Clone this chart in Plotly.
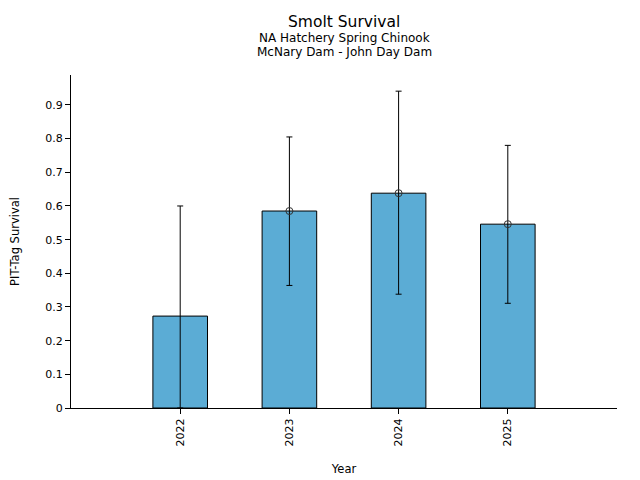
import plotly.graph_objects as go

years = ["2022", "2023", "2024", "2025"]
survival = [0.273, 0.585, 0.638, 0.546]
lower_ci = [0.0, 0.364, 0.338, 0.311]
upper_ci = [0.600, 0.805, 0.941, 0.780]
point_est = [None, 0.585, 0.638, 0.546]
y_ticks = [0, 0.1, 0.2, 0.3, 0.4, 0.5, 0.6, 0.7, 0.8, 0.9]
y_tick_text = ["0", "0.1", "0.2", "0.3", "0.4", "0.5", "0.6", "0.7", "0.8", "0.9"]
title_lines = ["Smolt Survival", "NA Hatchery Spring Chinook", "McNary Dam - John Day Dam"]

err_plus = [u - s for u, s in zip(upper_ci, survival)]
err_minus = [s - l for s, l in zip(survival, lower_ci)]

FONT = "DejaVu Sans"

fig = go.Figure()
fig.add_trace(go.Bar(
    x=years, y=survival, width=0.5,
    marker=dict(color="#5BACD5", line=dict(color="black", width=1)),
    error_y=dict(type="data", symmetric=False, array=err_plus, arrayminus=err_minus,
                 color="black", thickness=1, width=3),
    showlegend=False,
))
fig.add_trace(go.Scatter(
    x=years, y=point_est, mode="markers",
    marker=dict(symbol="circle-open", size=7, color="#333333", line=dict(width=1)),
    showlegend=False,
))

fig.update_layout(
    width=624, height=480,
    paper_bgcolor="white", plot_bgcolor="white",
    margin=dict(l=63, r=15, t=67, b=80),
    font=dict(family=FONT, size=11, color="black"),
    bargap=0.5,
)
ph = 333.0
for txt, ypix, fs in zip(title_lines, [22, 38, 52], [15.5, 12, 12]):
    fig.add_annotation(text=txt, xref="paper", yref="paper", x=0.5, y=(408 - ypix) / ph,
                       xanchor="center", yanchor="middle", showarrow=False,
                       font=dict(family=FONT, size=fs, color="black"))
fig.update_xaxes(
    type="category", range=[-1, 4], automargin=False,
    showline=True, linecolor="black", linewidth=1,
    ticks="outside", ticklen=5, tickcolor="black", tickangle=-90,
    showgrid=False, zeroline=False,
    title=dict(text="Year", font=dict(size=11.5), standoff=19),
    tickfont=dict(size=11),
)
fig.update_yaxes(
    range=[0, 0.989], automargin=False,
    tickvals=y_ticks, ticktext=y_tick_text,
    showline=True, linecolor="black", linewidth=1,
    ticks="outside", ticklen=5, tickcolor="black",
    showgrid=False, zeroline=False,
    title=dict(text="PIT-Tag Survival", font=dict(size=11.5), standoff=24),
    tickfont=dict(size=11),
)

fig.write_html("out.html")
